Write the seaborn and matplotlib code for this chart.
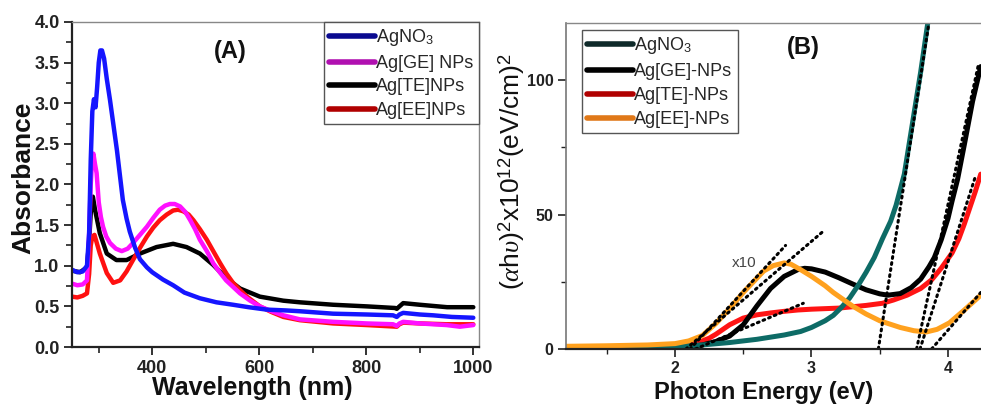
import matplotlib
matplotlib.use("Agg")
import matplotlib.pyplot as plt
from matplotlib.lines import Line2D
from matplotlib.ticker import MultipleLocator, FormatStrFormatter
import seaborn as sns

# ---------------- Panel A data: UV-vis absorbance ----------------
wl_agno3 = [250, 260, 270, 278, 282, 285, 288, 291, 294, 297, 300, 303, 306, 310, 315, 321, 334, 345, 352, 358,
            368, 377, 390, 400, 420, 439, 460, 489, 520, 551, 580, 614, 650, 676, 738, 801, 850, 857, 862,
            869, 900, 925, 960, 1000]
abs_agno3 = [0.95, 0.92, 0.93, 1.00, 1.40, 2.30, 2.90, 3.05, 2.95, 3.20, 3.50, 3.65, 3.65, 3.55, 3.30, 3.04,
             2.42, 1.81, 1.58, 1.42, 1.22, 1.08, 0.98, 0.92, 0.83, 0.76, 0.67, 0.60, 0.55, 0.52, 0.49, 0.46,
             0.45, 0.44, 0.41, 0.40, 0.39, 0.37, 0.40, 0.42, 0.40, 0.39, 0.37, 0.36]

wl_ge = [250, 260, 270, 278, 282, 285, 288, 290, 293, 296, 300, 304, 308, 314, 321, 332, 343, 354, 364, 377,
         390, 402, 414, 424, 433, 442, 452, 462, 471, 480, 489, 502, 514, 526, 538, 551, 564, 583, 601, 623,
         645, 676, 738, 801, 850, 857, 862, 869, 900, 925, 950, 975, 1000]
abs_ge = [0.78, 0.76, 0.77, 0.82, 1.40, 2.00, 2.35, 2.38, 2.25, 2.14, 1.78, 1.60, 1.48, 1.36, 1.28, 1.21, 1.18,
          1.21, 1.28, 1.38, 1.48, 1.59, 1.69, 1.74, 1.76, 1.76, 1.73, 1.66, 1.56, 1.45, 1.32, 1.18, 1.03, 0.92,
          0.82, 0.74, 0.66, 0.57, 0.50, 0.44, 0.39, 0.34, 0.31, 0.29, 0.28, 0.26, 0.29, 0.31, 0.29, 0.28, 0.27,
          0.25, 0.27]

wl_te = [250, 265, 278, 282, 285, 289, 293, 302, 315, 333, 352, 377, 408, 439, 464, 489, 514, 538, 564, 601,
         645, 676, 738, 801, 854, 857, 862, 869, 900, 951, 1000]
abs_te = [0.94, 0.92, 0.98, 1.30, 1.65, 1.85, 1.69, 1.40, 1.15, 1.07, 1.07, 1.15, 1.23, 1.27, 1.23, 1.15, 1.01,
          0.85, 0.72, 0.62, 0.57, 0.55, 0.52, 0.50, 0.48, 0.47, 0.50, 0.54, 0.52, 0.49, 0.49]

wl_ee = [250, 260, 270, 278, 282, 285, 288, 292, 302, 315, 327, 340, 352, 364, 377, 390, 402, 414, 427, 439,
         448, 458, 468, 477, 489, 502, 514, 527, 539, 551, 564, 577, 601, 623, 645, 676, 738, 801, 857, 862,
         869, 900, 950, 1000]
abs_ee = [0.62, 0.61, 0.63, 0.66, 0.90, 1.25, 1.36, 1.38, 1.15, 0.91, 0.79, 0.82, 0.93, 1.07, 1.22, 1.36, 1.47,
          1.56, 1.63, 1.68, 1.69, 1.67, 1.63, 1.56, 1.45, 1.32, 1.18, 1.03, 0.90, 0.79, 0.70, 0.62, 0.50, 0.43,
          0.37, 0.33, 0.29, 0.27, 0.25, 0.28, 0.30, 0.29, 0.28, 0.28]

labels_a = ["AgNO$_3$", "Ag[GE] NPs", "Ag[TE]NPs", "Ag[EE]NPs"]

# ---------------- Panel B data: Tauc plot ----------------
E_agno3 = [1.2, 1.5, 1.8, 2.0, 2.2, 2.4, 2.6, 2.8, 2.92, 3.0, 3.1, 3.16, 3.22, 3.28, 3.34, 3.4, 3.46, 3.52,
           3.58, 3.62, 3.68, 3.74, 3.8, 3.86]
t_agno3 = [0.4, 0.6, 0.8, 1.0, 1.5, 2.4, 3.6, 5.2, 6.5, 8.0, 10.5, 12.5, 15.5, 19.0, 23.5, 28.5, 34.0, 41.0,
           47.5, 53.5, 65.0, 84.0, 103.0, 124.0]

E_ge = [1.2, 1.5, 1.8, 2.0, 2.1, 2.2, 2.3, 2.4, 2.5, 2.6, 2.7, 2.8, 2.9, 2.95, 3.0, 3.1, 3.2, 3.3, 3.4, 3.5,
        3.56, 3.65, 3.73, 3.8, 3.86, 3.9, 3.95, 4.0, 4.03, 4.07, 4.12, 4.18, 4.24]
t_ge = [0.2, 0.2, 0.3, 0.5, 0.8, 1.5, 2.8, 4.8, 9.0, 16.0, 22.5, 27.0, 29.5, 30.0, 29.8, 28.6, 26.5, 24.2,
        22.0, 20.5, 20.0, 20.6, 22.8, 26.0, 30.5, 34.0, 40.5, 48.5, 55.0, 63.0, 76.0, 92.0, 105.0]

E_te = [1.2, 1.8, 2.0, 2.1, 2.2, 2.25, 2.3, 2.4, 2.5, 2.6, 2.7, 2.8, 2.9, 3.0, 3.2, 3.3, 3.4, 3.52, 3.6, 3.7,
        3.8, 3.88, 3.95, 4.03, 4.08, 4.12, 4.16, 4.2, 4.24]
t_te = [0.3, 0.5, 0.8, 1.5, 3.0, 4.0, 5.5, 9.0, 11.5, 12.7, 13.4, 14.0, 14.5, 14.8, 15.2, 15.7, 16.2, 17.0,
        18.2, 20.0, 22.5, 25.7, 30.0, 35.7, 41.0, 46.5, 52.5, 58.5, 65.0]

E_ee = [1.2, 1.5, 1.8, 2.0, 2.1, 2.2, 2.3, 2.4, 2.5, 2.65, 2.72, 2.8, 2.85, 2.92, 3.0, 3.1, 3.16, 3.3, 3.4,
        3.5, 3.65, 3.75, 3.84, 3.92, 4.01, 4.12, 4.24]
t_ee = [1.0, 1.2, 1.5, 2.0, 3.0, 5.0, 9.5, 15.0, 21.0, 29.0, 31.0, 32.0, 31.5, 29.5, 27.0, 23.5, 21.0, 16.0,
        13.0, 10.5, 8.0, 6.8, 6.3, 7.3, 9.7, 14.5, 20.0]

# tangent (band-gap extrapolation) lines
tan_x0 = [2.11, 2.08, 2.15, 3.49, 3.77, 3.795, 3.88]
tan_x1 = [2.81, 3.08, 2.94, 3.86, 4.22, 4.20, 4.24]
tan_y0 = [0, 0, 0, 0, 0, 0, 0]
tan_y1 = [38.5, 43.5, 17.0, 121.0, 105.0, 64.0, 21.0]

labels_b = ["AgNO$_3$", "Ag[GE]-NPs", "Ag[TE]-NPs", "Ag[EE]-NPs"]

# ---------------- style ----------------
sns.set_theme(style="ticks")
plt.rcParams["font.family"] = ["Liberation Sans", "DejaVu Sans"]
plt.rcParams["font.weight"] = "bold"
plt.rcParams["mathtext.fontset"] = "custom"
plt.rcParams["mathtext.rm"] = "Liberation Sans:weight=normal"
plt.rcParams["mathtext.it"] = "Liberation Serif:italic:weight=normal"
plt.rcParams["mathtext.bf"] = "Liberation Sans:bold"

fig = plt.figure(figsize=(9.81, 4.05), dpi=100)
axA = fig.add_axes([0.0734, 0.1432, 0.4149, 0.8025])
axB = fig.add_axes([0.5770, 0.1383, 0.4230, 0.8049])

# ---------------- Panel A ----------------
col_a = {"agno3": "#1515ff", "ge": "#ff10ff", "te": "#000000", "ee": "#ff1010"}
lw_a = 3.2
sns.lineplot(x=wl_te, y=abs_te, ax=axA, color=col_a["te"], lw=lw_a, sort=False, estimator=None)
sns.lineplot(x=wl_ee, y=abs_ee, ax=axA, color=col_a["ee"], lw=lw_a, sort=False, estimator=None)
sns.lineplot(x=wl_ge, y=abs_ge, ax=axA, color=col_a["ge"], lw=lw_a, sort=False, estimator=None)
sns.lineplot(x=wl_agno3, y=abs_agno3, ax=axA, color=col_a["agno3"], lw=lw_a, sort=False, estimator=None)

axA.set_xlim(250, 1010.7)
axA.set_ylim(0, 4.0)
axA.xaxis.set_major_locator(MultipleLocator(200))
axA.xaxis.set_minor_locator(MultipleLocator(100))
axA.yaxis.set_major_locator(MultipleLocator(0.5))
axA.yaxis.set_minor_locator(MultipleLocator(0.25))
axA.yaxis.set_major_formatter(FormatStrFormatter("%.1f"))
axA.tick_params(axis="both", which="major", direction="out", length=6, width=1.3, labelsize=13,
                colors="#222222", pad=3)
axA.tick_params(axis="both", which="minor", direction="out", length=4, width=1.2, colors="#222222")
axA.spines["left"].set_color("#222222")
axA.spines["left"].set_linewidth(1.6)
axA.spines["bottom"].set_color("#222222")
axA.spines["bottom"].set_linewidth(1.6)
axA.spines["top"].set_color("#888888")
axA.spines["top"].set_linewidth(1.0)
axA.spines["right"].set_color("#888888")
axA.spines["right"].set_linewidth(1.0)

axA.set_xlabel("Wavelength (nm)", fontsize=18, fontweight="bold", va="center", color="#111111")
axA.xaxis.set_label_coords(0.442, -0.126)
axA.set_ylabel("Absorbance", fontsize=19, fontweight="bold", va="center", color="#111111")
axA.yaxis.set_label_coords(-0.12, 0.52)
axA.text(0.388, 0.908, "(A)", transform=axA.transAxes, fontsize=17, fontweight="bold",
         ha="center", va="center", color="#111111")

handles_a = [Line2D([], [], color=c, lw=4, solid_capstyle="round")
             for c in ["#0a0a90", "#b010b0", "#000000", "#b00000"]]
legA = axA.legend(handles_a, labels_a, loc="upper right", bbox_to_anchor=(1.0, 1.0), borderaxespad=0,
                  prop={"size": 13, "weight": "normal"}, handlelength=2.5, handletextpad=0.1,
                  borderpad=0.3, labelspacing=0.36, frameon=True, fancybox=False, framealpha=1)
legA.get_frame().set_edgecolor("#555555")
legA.get_frame().set_linewidth(1.0)

# ---------------- Panel B ----------------
col_b = {"agno3": "#0d6b66", "ge": "#000000", "te": "#ff1414", "ee": "#ffa11e"}
lw_b = 3.6
sns.lineplot(x=E_te, y=t_te, ax=axB, color=col_b["te"], lw=lw_b, sort=False, estimator=None)
sns.lineplot(x=E_ge, y=t_ge, ax=axB, color=col_b["ge"], lw=lw_b, sort=False, estimator=None)
sns.lineplot(x=E_agno3, y=t_agno3, ax=axB, color=col_b["agno3"], lw=lw_b, sort=False, estimator=None)
sns.lineplot(x=E_ee, y=t_ee, ax=axB, color=col_b["ee"], lw=lw_b, sort=False, estimator=None)
for x0, x1, y0, y1 in zip(tan_x0, tan_x1, tan_y0, tan_y1):
    sns.lineplot(x=[x0, x1], y=[y0, y1], ax=axB, color="black", lw=2.2,
                 linestyle=(0, (0.6, 1.4)), dash_capstyle="round", sort=False, estimator=None)

axB.set_xlim(1.2015, 4.242)
axB.set_ylim(0, 121.2)
axB.xaxis.set_major_locator(MultipleLocator(1))
axB.xaxis.set_minor_locator(MultipleLocator(0.5))
axB.yaxis.set_major_locator(MultipleLocator(50))
axB.yaxis.set_minor_locator(MultipleLocator(25))
axB.tick_params(axis="both", which="major", direction="out", length=6, width=1.2, labelsize=11.5,
                colors="#222222", pad=3)
axB.tick_params(axis="both", which="minor", direction="out", length=3.5, width=1.0, colors="#222222")
axB.spines["left"].set_color("#777777")
axB.spines["left"].set_linewidth(1.2)
axB.spines["bottom"].set_color("#222222")
axB.spines["bottom"].set_linewidth(1.6)
axB.spines["top"].set_color("#888888")
axB.spines["top"].set_linewidth(1.0)
axB.spines["right"].set_visible(False)

axB.set_xlabel("Photon Energy (eV)", fontsize=17, fontweight="bold", va="center", color="#111111")
axB.xaxis.set_label_coords(0.477, -0.132)
axB.set_ylabel(r"($\alpha$h$\upsilon$)$^{2}$x10$^{12}$(eV/cm)$^{2}$", fontsize=19, fontweight="normal",
               va="center", color="#111111")
axB.yaxis.set_label_coords(-0.13, 0.545)
axB.text(0.571, 0.926, "(B)", transform=axB.transAxes, fontsize=17, fontweight="bold",
         ha="center", va="center", color="#111111")
axB.text(2.51, 32, "x10", fontsize=11, fontweight="normal", ha="center", va="center", color="#444444")

handles_b = [Line2D([], [], color=c, lw=4, solid_capstyle="round")
             for c in ["#0f2a2a", "#000000", "#b00000", "#e07818"]]
legB = axB.legend(handles_b, labels_b, loc="upper left", bbox_to_anchor=(0.0386, 0.979), borderaxespad=0,
                  prop={"size": 13, "weight": "normal"}, handlelength=2.5, handletextpad=0.1,
                  borderpad=0.3, labelspacing=0.38, frameon=True, fancybox=False, framealpha=1)
legB.get_frame().set_edgecolor("#555555")
legB.get_frame().set_linewidth(1.0)

fig.savefig("out.png", dpi=100)
